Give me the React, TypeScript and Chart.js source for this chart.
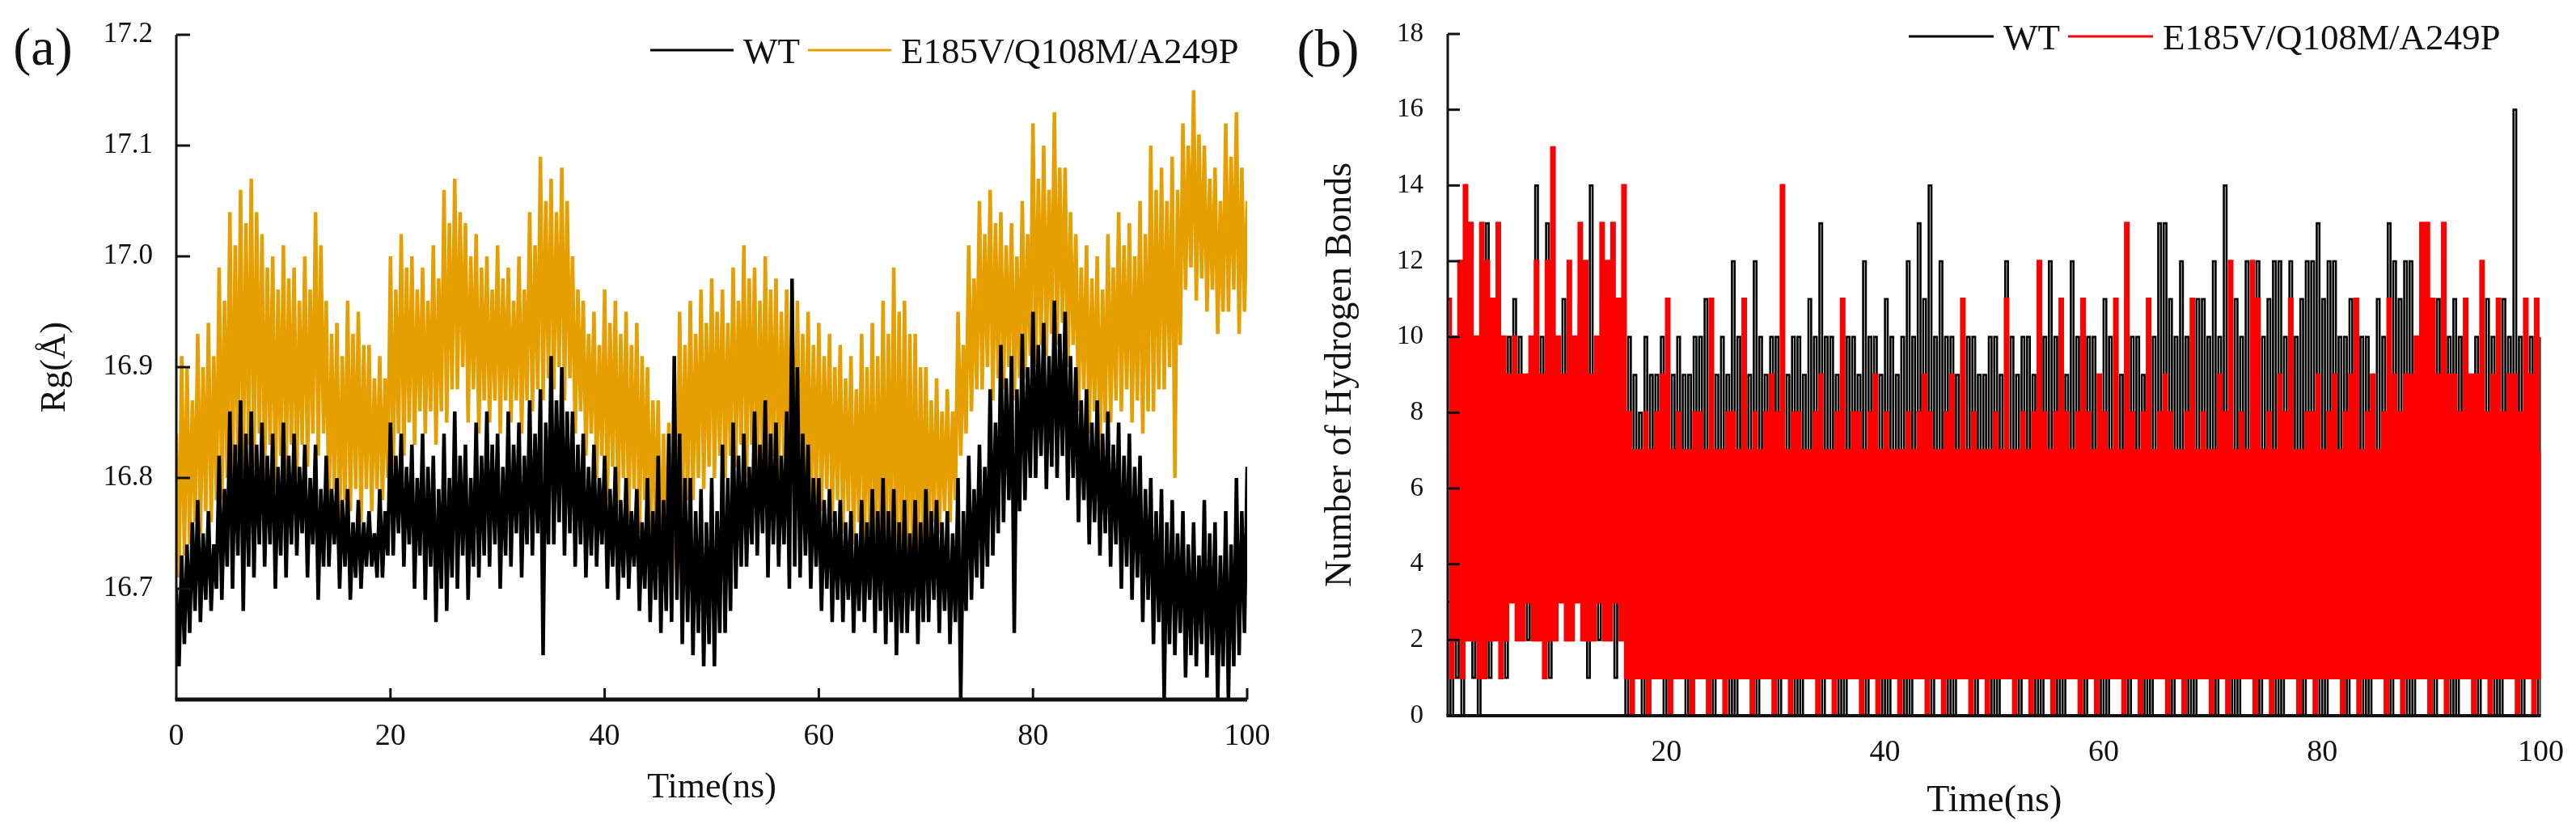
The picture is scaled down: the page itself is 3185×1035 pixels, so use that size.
import React, { useEffect, useRef } from 'react';
import { Chart, registerables } from 'chart.js';

Chart.register(...registerables);

// sampling interval of the traces below (ns)
const SAMPLE_STEP_NS = 0.25;

const TIME_TICKS = [0, 20, 40, 60, 80, 100];
const RG_TICKS = [16.6, 16.7, 16.8, 16.9, 17.0, 17.1, 17.2];
const HB_TICKS = [0, 2, 4, 6, 8, 10, 12, 14, 16, 18];

// (a) radius of gyration, Å — one row per 4 ns
const WT_RG = [
  16.70, 16.63, 16.73, 16.65, 16.74, 16.66, 16.76, 16.68, 16.78, 16.67, 16.75, 16.69, 16.77, 16.68, 16.74, 16.70,
  16.82, 16.69, 16.79, 16.72, 16.86, 16.70, 16.83, 16.73, 16.87, 16.68, 16.84, 16.72, 16.86, 16.71, 16.83, 16.74,
  16.85, 16.72, 16.82, 16.74, 16.84, 16.70, 16.81, 16.73, 16.85, 16.71, 16.82, 16.74, 16.84, 16.73, 16.81, 16.75,
  16.83, 16.71, 16.80, 16.74, 16.83, 16.69, 16.79, 16.72, 16.82, 16.72, 16.79, 16.74, 16.80, 16.70, 16.78, 16.72,
  16.79, 16.69, 16.76, 16.71, 16.78, 16.70, 16.76, 16.72, 16.77, 16.72, 16.75, 16.71, 16.79, 16.71, 16.77, 16.73,
  16.85, 16.73, 16.82, 16.75, 16.84, 16.72, 16.81, 16.74, 16.83, 16.70, 16.80, 16.73, 16.84, 16.69, 16.81, 16.72,
  16.82, 16.67, 16.79, 16.70, 16.84, 16.68, 16.80, 16.71, 16.86, 16.70, 16.82, 16.73, 16.83, 16.69, 16.80, 16.72,
  16.85, 16.71, 16.82, 16.73, 16.86, 16.72, 16.83, 16.74, 16.84, 16.70, 16.81, 16.73, 16.86, 16.72, 16.83, 16.75,
  16.85, 16.71, 16.82, 16.74, 16.87, 16.73, 16.84, 16.75, 16.88, 16.64, 16.85, 16.74, 16.91, 16.74, 16.87, 16.76,
  16.90, 16.73, 16.86, 16.75, 16.86, 16.72, 16.83, 16.74, 16.84, 16.71, 16.81, 16.73, 16.83, 16.72, 16.80, 16.74,
  16.82, 16.70, 16.79, 16.72, 16.81, 16.69, 16.78, 16.71, 16.80, 16.70, 16.77, 16.72, 16.79, 16.68, 16.76, 16.70,
  16.80, 16.67, 16.77, 16.69, 16.82, 16.66, 16.78, 16.68, 16.84, 16.67, 16.91, 16.69, 16.84, 16.65, 16.80, 16.67,
  16.80, 16.64, 16.77, 16.66, 16.79, 16.63, 16.76, 16.65, 16.80, 16.63, 16.77, 16.66, 16.83, 16.66, 16.80, 16.68,
  16.85, 16.70, 16.82, 16.72, 16.84, 16.72, 16.81, 16.74, 16.86, 16.73, 16.83, 16.75, 16.87, 16.71, 16.84, 16.74,
  16.85, 16.72, 16.82, 16.74, 16.86, 16.70, 16.98, 16.72, 16.90, 16.71, 16.84, 16.73, 16.83, 16.70, 16.80, 16.72,
  16.80, 16.68, 16.78, 16.70, 16.79, 16.67, 16.77, 16.69, 16.78, 16.67, 16.76, 16.69, 16.77, 16.66, 16.75, 16.68,
  16.78, 16.67, 16.76, 16.69, 16.79, 16.66, 16.77, 16.68, 16.80, 16.65, 16.77, 16.67, 16.79, 16.64, 16.76, 16.66,
  16.78, 16.66, 16.75, 16.68, 16.78, 16.65, 16.76, 16.67, 16.79, 16.67, 16.77, 16.69, 16.78, 16.66, 16.76, 16.68,
  16.77, 16.65, 16.75, 16.67, 16.80, 16.60, 16.77, 16.68, 16.82, 16.69, 16.79, 16.71, 16.83, 16.70, 16.81, 16.72,
  16.88, 16.73, 16.85, 16.75, 16.92, 16.76, 16.89, 16.78, 16.91, 16.66, 16.88, 16.77, 16.93, 16.78, 16.90, 16.80,
  16.95, 16.80, 16.92, 16.82, 16.94, 16.79, 16.91, 16.81, 16.96, 16.80, 16.93, 16.82, 16.95, 16.78, 16.91, 16.80,
  16.90, 16.76, 16.87, 16.78, 16.88, 16.74, 16.85, 16.76, 16.87, 16.73, 16.84, 16.75, 16.86, 16.72, 16.83, 16.74,
  16.85, 16.70, 16.82, 16.72, 16.84, 16.69, 16.81, 16.71, 16.82, 16.67, 16.79, 16.69, 16.80, 16.65, 16.77, 16.67,
  16.79, 16.60, 16.76, 16.65, 16.78, 16.64, 16.75, 16.66, 16.77, 16.62, 16.74, 16.64, 16.76, 16.63, 16.73, 16.65,
  16.78, 16.62, 16.75, 16.64, 16.76, 16.60, 16.73, 16.63, 16.77, 16.60, 16.74, 16.63, 16.80, 16.64, 16.77, 16.66,
  16.81,
];

const MUT_RG = [
  16.84, 16.71, 16.91, 16.73, 16.90, 16.74, 16.87, 16.76, 16.93, 16.75, 16.90, 16.77, 16.94, 16.76, 16.91, 16.78,
  16.99, 16.78, 16.96, 16.80, 17.04, 16.79, 17.01, 16.82, 17.06, 16.80, 17.03, 16.83, 17.07, 16.81, 17.04, 16.84,
  17.02, 16.80, 16.99, 16.83, 17.00, 16.79, 16.97, 16.82, 17.01, 16.80, 16.98, 16.83, 16.99, 16.80, 16.96, 16.83,
  17.00, 16.81, 16.97, 16.84, 17.04, 16.82, 17.01, 16.84, 16.96, 16.76, 16.93, 16.79, 16.94, 16.75, 16.91, 16.78,
  16.96, 16.77, 16.93, 16.79, 16.95, 16.76, 16.92, 16.79, 16.92, 16.77, 16.89, 16.79, 16.91, 16.78, 16.89, 16.80,
  17.00, 16.81, 16.97, 16.84, 17.02, 16.82, 16.99, 16.85, 17.00, 16.83, 16.97, 16.86, 16.99, 16.84, 16.96, 16.86,
  17.01, 16.83, 16.98, 16.86, 17.06, 16.85, 17.03, 16.88, 17.07, 16.88, 17.04, 16.90, 17.03, 16.85, 17.00, 16.88,
  17.02, 16.84, 16.99, 16.87, 17.00, 16.85, 16.97, 16.87, 17.01, 16.84, 16.98, 16.87, 16.99, 16.85, 16.96, 16.87,
  17.00, 16.84, 16.97, 16.87, 17.04, 16.86, 17.01, 16.88, 17.09, 16.87, 17.05, 16.89, 17.07, 16.88, 17.04, 16.90,
  17.08, 16.87, 17.05, 16.89, 17.00, 16.84, 16.97, 16.86, 16.96, 16.82, 16.93, 16.84, 16.95, 16.80, 16.92, 16.82,
  16.97, 16.78, 16.94, 16.81, 16.96, 16.77, 16.93, 16.80, 16.95, 16.76, 16.92, 16.79, 16.94, 16.75, 16.91, 16.78,
  16.90, 16.74, 16.87, 16.76, 16.87, 16.70, 16.84, 16.73, 16.85, 16.68, 16.82, 16.71, 16.95, 16.76, 16.92, 16.78,
  16.96, 16.78, 16.93, 16.80, 16.97, 16.79, 16.94, 16.81, 16.98, 16.80, 16.95, 16.82, 16.97, 16.80, 16.94, 16.82,
  16.99, 16.81, 16.96, 16.83, 17.01, 16.80, 16.98, 16.83, 16.99, 16.80, 16.96, 16.82, 17.00, 16.79, 16.97, 16.82,
  16.98, 16.80, 16.95, 16.82, 16.97, 16.78, 16.94, 16.80, 16.96, 16.77, 16.93, 16.79, 16.95, 16.76, 16.92, 16.78,
  16.94, 16.77, 16.91, 16.79, 16.93, 16.76, 16.90, 16.78, 16.92, 16.75, 16.89, 16.77, 16.91, 16.74, 16.88, 16.76,
  16.93, 16.73, 16.90, 16.75, 16.94, 16.72, 16.91, 16.74, 16.96, 16.72, 16.93, 16.74, 16.99, 16.70, 16.95, 16.73,
  16.96, 16.71, 16.93, 16.73, 16.93, 16.72, 16.90, 16.74, 16.90, 16.74, 16.87, 16.76, 16.89, 16.75, 16.86, 16.77,
  16.88, 16.76, 16.86, 16.78, 16.95, 16.82, 16.92, 16.84, 17.01, 16.86, 16.98, 16.88, 17.05, 16.88, 17.02, 16.90,
  17.06, 16.87, 17.03, 16.89, 17.04, 16.88, 17.01, 16.90, 17.03, 16.87, 17.00, 16.89, 17.05, 16.89, 17.02, 16.91,
  17.12, 16.90, 17.07, 16.92, 17.10, 16.91, 17.06, 16.93, 17.13, 16.92, 17.08, 16.94, 17.08, 16.90, 17.04, 16.92,
  17.02, 16.86, 16.99, 16.88, 17.01, 16.84, 16.98, 16.86, 17.00, 16.82, 16.97, 16.85, 17.02, 16.85, 16.99, 16.87,
  17.04, 16.86, 17.01, 16.88, 17.03, 16.85, 17.00, 16.87, 17.05, 16.84, 17.02, 16.86, 17.10, 16.86, 17.06, 16.88,
  17.08, 16.88, 17.05, 16.90, 17.09, 16.80, 17.06, 16.92, 17.12, 16.97, 17.10, 16.99, 17.15, 16.96, 17.11, 16.98,
  17.10, 16.95, 17.07, 16.97, 17.08, 16.93, 17.05, 16.95, 17.12, 16.95, 17.09, 16.97, 17.13, 16.93, 17.08, 16.95,
  17.05,
];

// (b) number of hydrogen bonds — one row per 5 ns
const WT_HB = [
  3, 0, 10, 1, 10, 0, 11, 2, 13, 1, 10, 0, 11, 2, 13, 1, 10, 3, 11, 2,
  9, 1, 10, 3, 11, 3, 10, 2, 9, 2, 10, 3, 14, 2, 10, 3, 13, 1, 10, 2,
  10, 3, 11, 2, 9, 2, 10, 3, 11, 2, 9, 1, 14, 3, 10, 2, 11, 2, 10, 3,
  10, 1, 11, 2, 12, 0, 10, 1, 9, 1, 8, 0, 10, 0, 9, 1, 9, 1, 10, 0,
  8, 0, 9, 1, 10, 1, 9, 0, 9, 0, 10, 1, 10, 1, 11, 0, 9, 0, 9, 1,
  10, 1, 9, 0, 12, 0, 10, 1, 9, 1, 9, 0, 12, 0, 10, 1, 9, 1, 10, 0,
  10, 0, 9, 1, 9, 1, 10, 0, 10, 0, 9, 1, 11, 1, 10, 0, 13, 0, 10, 1,
  10, 1, 9, 0, 11, 0, 10, 1, 10, 1, 9, 0, 12, 0, 10, 1, 10, 1, 9, 0,
  11, 0, 10, 1, 9, 1, 10, 0, 12, 0, 10, 1, 13, 1, 11, 0, 14, 0, 10, 1,
  12, 1, 10, 0, 10, 0, 9, 1, 9, 1, 10, 0, 10, 0, 9, 1, 9, 1, 10, 0,
  10, 0, 9, 1, 12, 1, 10, 0, 9, 0, 10, 1, 10, 1, 9, 0, 11, 0, 10, 1,
  12, 1, 10, 0, 10, 0, 9, 1, 12, 1, 10, 0, 11, 0, 10, 1, 10, 1, 9, 0,
  11, 0, 10, 1, 10, 1, 9, 0, 11, 0, 10, 1, 10, 1, 9, 0, 11, 0, 10, 1,
  13, 1, 13, 0, 11, 0, 10, 1, 12, 1, 10, 0, 10, 0, 11, 1, 11, 1, 10, 0,
  12, 0, 10, 1, 14, 1, 10, 0, 11, 0, 10, 1, 12, 1, 10, 0, 12, 0, 10, 1,
  11, 1, 12, 0, 12, 0, 10, 1, 12, 1, 10, 0, 11, 0, 12, 1, 12, 1, 13, 0,
  11, 0, 12, 1, 12, 1, 10, 0, 10, 0, 11, 1, 11, 1, 10, 0, 10, 0, 9, 1,
  11, 1, 10, 0, 13, 0, 12, 1, 11, 1, 12, 0, 12, 0, 10, 1, 11, 1, 10, 0,
  10, 0, 11, 1, 12, 1, 10, 0, 11, 0, 10, 1, 10, 1, 9, 0, 10, 0, 9, 1,
  11, 1, 10, 0, 10, 0, 11, 1, 10, 1, 16, 0, 10, 0, 11, 1, 10, 1, 9, 0,
  10,
];

const MUT_HB = [
  11, 1, 10, 2, 12, 1, 14, 2, 13, 2, 10, 1, 13, 1, 12, 2, 11, 2, 13, 1,
  10, 2, 9, 3, 10, 2, 9, 2, 9, 3, 10, 2, 12, 2, 9, 1, 12, 2, 15, 2,
  10, 3, 9, 2, 12, 2, 10, 3, 13, 2, 12, 2, 9, 2, 10, 3, 13, 2, 12, 2,
  13, 3, 11, 2, 14, 1, 8, 0, 7, 1, 7, 1, 8, 0, 7, 1, 8, 1, 9, 1,
  11, 0, 7, 1, 8, 1, 7, 1, 7, 0, 8, 1, 8, 1, 7, 0, 11, 1, 7, 1,
  7, 0, 8, 1, 8, 1, 7, 1, 11, 1, 7, 0, 8, 1, 7, 1, 8, 1, 9, 0,
  8, 1, 14, 1, 7, 0, 8, 1, 8, 1, 7, 1, 7, 1, 8, 0, 9, 1, 7, 1,
  7, 0, 8, 1, 11, 1, 7, 1, 8, 1, 8, 0, 7, 1, 8, 1, 9, 0, 7, 1,
  8, 1, 7, 1, 7, 0, 7, 1, 8, 1, 7, 1, 8, 1, 9, 0, 8, 1, 7, 1,
  7, 0, 8, 1, 9, 1, 7, 1, 11, 1, 7, 0, 8, 1, 7, 1, 7, 0, 7, 1,
  8, 1, 7, 1, 11, 1, 7, 0, 7, 1, 8, 1, 7, 0, 8, 1, 12, 1, 8, 1,
  7, 0, 8, 1, 11, 1, 8, 1, 7, 1, 8, 0, 11, 1, 8, 1, 7, 0, 9, 1,
  8, 1, 7, 1, 11, 1, 7, 0, 13, 1, 8, 1, 7, 0, 8, 1, 11, 1, 7, 1,
  8, 1, 9, 0, 8, 1, 7, 1, 7, 0, 8, 1, 11, 1, 7, 1, 8, 1, 7, 0,
  7, 1, 9, 1, 8, 0, 12, 1, 7, 1, 8, 1, 7, 1, 12, 0, 11, 1, 7, 1,
  8, 0, 7, 1, 9, 1, 8, 1, 11, 1, 7, 0, 7, 1, 8, 1, 8, 0, 9, 1,
  7, 1, 8, 1, 9, 1, 7, 0, 8, 1, 9, 1, 11, 0, 7, 1, 8, 1, 9, 1,
  7, 1, 8, 0, 11, 1, 9, 1, 8, 0, 9, 1, 9, 1, 10, 1, 13, 1, 13, 0,
  11, 1, 9, 1, 13, 0, 9, 1, 9, 1, 8, 1, 11, 1, 9, 0, 9, 1, 12, 1,
  8, 0, 9, 1, 11, 1, 8, 1, 9, 1, 9, 0, 8, 1, 11, 1, 9, 0, 11, 1,
  7,
];

const FONT = "'Liberation Serif', 'Times New Roman', serif";
const INK = '#111111';

const toPoints = (values: number[]) => values.map((v, i) => ({ x: i * SAMPLE_STEP_NS, y: v }));

// axis lines, inward tick marks, legend and panel letter
const panelFrame = {
  id: 'panelFrame',
  afterDraw(chart: any, _args: any, o: any) {
    const { ctx, chartArea } = chart;
    const { left, right, bottom } = chartArea;
    const xs = chart.scales.x;
    const ys = chart.scales.y;
    ctx.save();
    ctx.strokeStyle = INK;
    ctx.lineCap = 'butt';

    ctx.lineWidth = o.yAxisWidth;
    ctx.beginPath();
    ctx.moveTo(left, ys.getPixelForValue(ys.max));
    ctx.lineTo(left, bottom);
    ctx.stroke();

    ctx.lineWidth = o.xAxisWidth;
    ctx.beginPath();
    ctx.moveTo(left - o.yAxisWidth / 2, bottom);
    ctx.lineTo(right, bottom);
    ctx.stroke();

    ctx.lineWidth = o.yAxisWidth;
    ys.ticks.forEach((t: any) => {
      const py = ys.getPixelForValue(t.value);
      if (py > bottom - 2) return;
      ctx.beginPath();
      ctx.moveTo(left, py);
      ctx.lineTo(left + o.yTickLen, py);
      ctx.stroke();
    });
    if (o.xTickLen > 0) {
      xs.ticks.forEach((t: any) => {
        const px = xs.getPixelForValue(t.value);
        if (px < left + 2) return;
        ctx.beginPath();
        ctx.moveTo(px, bottom);
        ctx.lineTo(px, bottom - o.xTickLen);
        ctx.stroke();
      });
    }

    ctx.font = `${o.legendSize}px ${FONT}`;
    ctx.textAlign = 'left';
    ctx.textBaseline = 'alphabetic';
    let cx = o.legendX;
    chart.data.datasets.forEach((ds: any) => {
      ctx.strokeStyle = ds.borderColor;
      ctx.lineWidth = 3;
      ctx.beginPath();
      ctx.moveTo(cx, o.legendY);
      ctx.lineTo(cx + o.legendLine, o.legendY);
      ctx.stroke();
      cx += o.legendLine + 12;
      ctx.fillStyle = INK;
      ctx.fillText(ds.label, cx, o.legendY + 16);
      cx += ctx.measureText(ds.label).width + 10;
    });

    ctx.font = `${o.tagSize}px ${FONT}`;
    ctx.textAlign = 'center';
    ctx.fillStyle = INK;
    ctx.fillText(o.tag, o.tagX, o.tagY);
    ctx.restore();
  },
};

const lineStyle = { pointRadius: 0, tension: 0, fill: false };

const rgConfig = (): any => ({
  type: 'line',
  data: {
    datasets: [
      { label: 'WT', data: toPoints(WT_RG), borderColor: '#000000', borderWidth: 4.5, ...lineStyle },
      { label: 'E185V/Q108M/A249P', data: toPoints(MUT_RG), borderColor: '#E69F00', borderWidth: 4.5, ...lineStyle },
    ],
  },
  options: {
    animation: false,
    responsive: true,
    maintainAspectRatio: false,
    events: [],
    layout: { padding: { left: 0, top: 43, right: 48, bottom: 0 } },
    plugins: {
      legend: { display: false },
      tooltip: { enabled: false },
      panelFrame: {
        tag: '(a)', tagX: 53, tagY: 80, tagSize: 66,
        legendX: 804, legendY: 62, legendLine: 103, legendSize: 45,
        xAxisWidth: 5, yAxisWidth: 3, yTickLen: 17, xTickLen: 14,
      },
    },
    scales: {
      x: {
        type: 'linear', min: 0, max: 100,
        grid: { display: false }, border: { display: false },
        afterBuildTicks: (s: any) => { s.ticks = TIME_TICKS.map((value) => ({ value })); },
        afterFit: (s: any) => { s.height = 170; },
        ticks: { font: { family: FONT, size: 38 }, color: INK, padding: 15, maxRotation: 0 },
        title: { display: true, text: 'Time(ns)', font: { family: FONT, size: 44 }, color: INK, padding: { top: 0, bottom: 34 } },
      },
      y: {
        type: 'linear', min: 16.6, max: 17.2,
        grid: { display: false }, border: { display: false },
        afterBuildTicks: (s: any) => { s.ticks = RG_TICKS.map((value) => ({ value })); },
        afterFit: (s: any) => { s.width = 218; },
        ticks: {
          font: { family: FONT, size: 35 }, color: INK, padding: 21,
          callback: (v: any) => (Math.abs(v - 16.6) < 1e-6 ? '' : Number(v).toFixed(1)),
        },
        title: { display: true, text: 'Rg(Å)', font: { family: FONT, size: 44 }, color: INK, padding: { top: 42, bottom: 0 } },
      },
    },
  },
  plugins: [panelFrame],
});

const hbConfig = (): any => ({
  type: 'line',
  data: {
    datasets: [
      { label: 'WT', data: toPoints(WT_HB), borderColor: '#000000', borderWidth: 2.6, stepped: true, order: 1, ...lineStyle },
      { label: 'E185V/Q108M/A249P', data: toPoints(MUT_HB), borderColor: '#FF0000', borderWidth: 3.6, stepped: true, order: 0, ...lineStyle },
    ],
  },
  options: {
    animation: false,
    responsive: true,
    maintainAspectRatio: false,
    events: [],
    layout: { padding: { left: 0, top: 42, right: 41, bottom: 0 } },
    plugins: {
      legend: { display: false },
      tooltip: { enabled: false },
      panelFrame: {
        tag: '(b)', tagX: 52, tagY: 82, tagSize: 66,
        legendX: 770, legendY: 45, legendLine: 105, legendSize: 45,
        xAxisWidth: 4, yAxisWidth: 3, yTickLen: 15, xTickLen: 0,
      },
    },
    scales: {
      x: {
        type: 'linear', min: 0, max: 100,
        grid: { display: false }, border: { display: false },
        afterBuildTicks: (s: any) => { s.ticks = TIME_TICKS.map((value) => ({ value })); },
        afterFit: (s: any) => { s.height = 150; },
        ticks: {
          font: { family: FONT, size: 38 }, color: INK, padding: 15, maxRotation: 0,
          callback: (v: any) => (v === 0 ? '' : String(v)),
        },
        title: { display: true, text: 'Time(ns)', font: { family: FONT, size: 46 }, color: INK, padding: { top: 0, bottom: 16 } },
      },
      y: {
        type: 'linear', min: 0, max: 18,
        grid: { display: false }, border: { display: false },
        afterBuildTicks: (s: any) => { s.ticks = HB_TICKS.map((value) => ({ value })); },
        afterFit: (s: any) => { s.width = 200; },
        ticks: { font: { family: FONT, size: 33 }, color: INK, padding: 22 },
        title: { display: true, text: 'Number of Hydrogen Bonds', font: { family: FONT, size: 46 }, color: INK, padding: { top: 40, bottom: 0 } },
      },
    },
  },
  plugins: [panelFrame],
});

const Panel: React.FC<{ left: number; width: number; build: () => any }> = ({ left, width, build }) => {
  const canvasRef = useRef<HTMLCanvasElement>(null);

  useEffect(() => {
    if (!canvasRef.current) return;
    const chart = new Chart(canvasRef.current, build());
    return () => { chart.destroy(); };
  }, [build]);

  return (
    <div style={{ position: 'absolute', left, top: 0, width, height: 1035 }}>
      <canvas ref={canvasRef}></canvas>
    </div>
  );
};

const App: React.FC = () => (
  <div style={{ position: 'absolute', left: 0, top: 0, width: 3185, height: 1035, background: '#ffffff', overflow: 'hidden' }}>
    <Panel left={0} width={1590} build={rgConfig} />
    <Panel left={1590} width={1595} build={hbConfig} />
  </div>
);

export default App;
